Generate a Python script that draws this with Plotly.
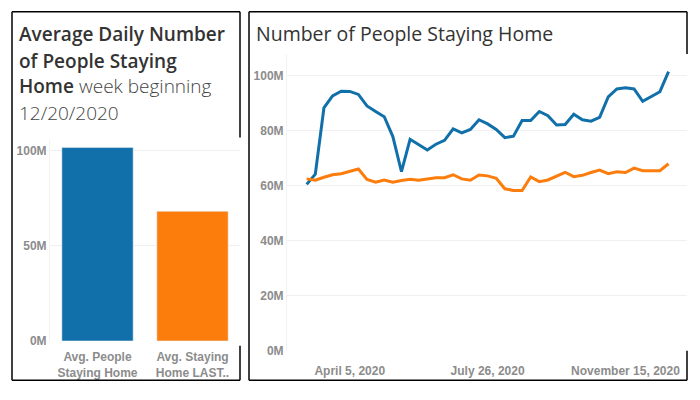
import plotly.graph_objects as go
import pandas as pd

# ---- data ----
bar_categories = ["Avg. People<br>Staying Home", "Avg. Staying<br>Home LAST.."]
bar_values = [101.5e6, 68.0e6]

week_start = "2020-03-01"
n_weeks = 43
people_home = [60.5, 64.2, 88.3, 92.7, 94.4, 94.3, 93.2, 89.0, 87.0, 85.1,
               77.9, 65.1, 76.9, 74.8, 73.0, 75.1, 76.5, 80.7, 79.2, 80.5,
               84.0, 82.5, 80.5, 77.5, 78.0, 83.7, 83.7, 87.0, 85.5, 82.1,
               82.3, 86.0, 84.0, 83.5, 84.9, 92.3, 95.2, 95.6, 95.2, 90.7,
               92.4, 94.2, 101.5]
people_home_last = [62.5, 62.0, 63.1, 64.0, 64.4, 65.2, 66.1, 62.3, 61.3, 62.1,
                    61.3, 61.9, 62.4, 62.0, 62.5, 62.9, 62.9, 64.0, 62.5, 62.0,
                    63.9, 63.6, 62.7, 58.9, 58.3, 58.3, 63.2, 61.5, 62.1, 63.6,
                    64.9, 63.3, 63.8, 64.8, 65.7, 64.4, 65.1, 64.8, 66.4, 65.5,
                    65.4, 65.5, 68.0]
x_tick_vals = ["2020-04-05", "2020-07-26", "2020-11-15"]
x_tick_text = ["April 5, 2020", "July 26, 2020", "November 15, 2020"]
bar_ticks = [0, 50e6, 100e6]
bar_tick_text = ["0M", "50M", "100M"]
line_ticks = [0, 20e6, 40e6, 60e6, 80e6, 100e6]
line_tick_text = ["0M", "20M", "40M", "60M", "80M", "100M"]

dates = pd.date_range(week_start, periods=n_weeks, freq="7D")

BLUE = "#1170aa"
ORANGE = "#fc7d0b"
TICK = dict(family="Arial, Liberation Sans", size=12, color="#8c8c8c", weight="bold")
W, H = 700, 400


def px(x):
    return x / W


def py(y):
    return 1 - y / H


fig = go.Figure()
fig.add_trace(go.Bar(x=bar_categories, y=bar_values, marker_color=[BLUE, ORANGE],
                     xaxis="x", yaxis="y", showlegend=False, width=0.75))
fig.add_trace(go.Scatter(x=dates, y=[v * 1e6 for v in people_home], mode="lines",
                         line=dict(color=BLUE, width=3), xaxis="x2", yaxis="y2",
                         showlegend=False))
fig.add_trace(go.Scatter(x=dates, y=[v * 1e6 for v in people_home_last], mode="lines",
                         line=dict(color=ORANGE, width=3), xaxis="x2", yaxis="y2",
                         showlegend=False))

fig.update_layout(
    width=W, height=H, margin=dict(l=0, r=0, t=0, b=0),
    paper_bgcolor="white", plot_bgcolor="white",
    xaxis=dict(domain=[px(50), px(240)], tickfont=TICK, showgrid=False,
               showline=False, ticks="", fixedrange=True, ticklabelstandoff=7),
    yaxis=dict(domain=[py(347), py(143)], range=[0, 105.2e6], tickvals=bar_ticks,
               ticktext=bar_tick_text, tickfont=TICK, gridcolor="#f0f0f0",
               zeroline=False, showline=True, linecolor="#f3f3f3", ticks=""),
    xaxis2=dict(domain=[px(287), px(687)], anchor="y2", type="date",
                range=["2020-02-14", "2021-01-04"], tickvals=x_tick_vals,
                ticktext=x_tick_text, tickfont=TICK, showgrid=False, ticks="",
                showline=False, ticklabelstandoff=11),
    yaxis2=dict(domain=[py(357), py(55)], anchor="x2", range=[0, 107.9e6],
                tickvals=line_ticks, ticktext=line_tick_text, tickfont=TICK,
                gridcolor="#f0f0f0", zeroline=False, showline=True,
                linecolor="#f3f3f3", ticks=""),
    bargap=0.25,
)

# panel borders (segments hidden where the plot areas cover them)
border = dict(color="black", width=1.5)
segs = [
    (12, 12, 240, 12), (12, 12, 12, 387), (12, 387, 240, 387),
    (240, 12, 240, 140), (240, 352, 240, 387),
    (249, 12, 687, 12), (249, 12, 249, 387), (249, 387, 687, 387),
    (687, 12, 687, 55), (687, 357, 687, 387),
]
for x0, y0, x1, y1 in segs:
    fig.add_shape(type="line", xref="paper", yref="paper",
                  x0=px(x0), y0=py(y0), x1=px(x1), y1=py(y1), line=border)

TITLE_FONT = "Open Sans, Noto Sans, sans-serif"
MED = dict(family=TITLE_FONT, size=19, color="#333333", weight=600)
LIGHT = dict(family=TITLE_FONT, size=19, color="#444444", weight=300)
left_lines = [
    ("Average Daily Number", 17, 35, MED),
    ("of People Staying", 17, 62, MED),
    ("Home", 17, 88, MED),
    ("week beginning", 77, 88, LIGHT),
    ("12/20/2020", 17, 115, LIGHT),
]
for txt, x, y, f in left_lines:
    fig.add_annotation(text=txt, xref="paper", yref="paper", x=px(x), y=py(y),
                       xanchor="left", yanchor="middle", showarrow=False, font=f)
fig.add_annotation(text="Number of People Staying Home", xref="paper", yref="paper",
                   x=px(254), y=py(34), xanchor="left", yanchor="middle",
                   showarrow=False,
                   font=dict(family=TITLE_FONT, size=19.5, color="#333333", weight=400))

fig.write_html("out.html", config={"displayModeBar": False},
               post_script="document.body.style.margin='0';")
